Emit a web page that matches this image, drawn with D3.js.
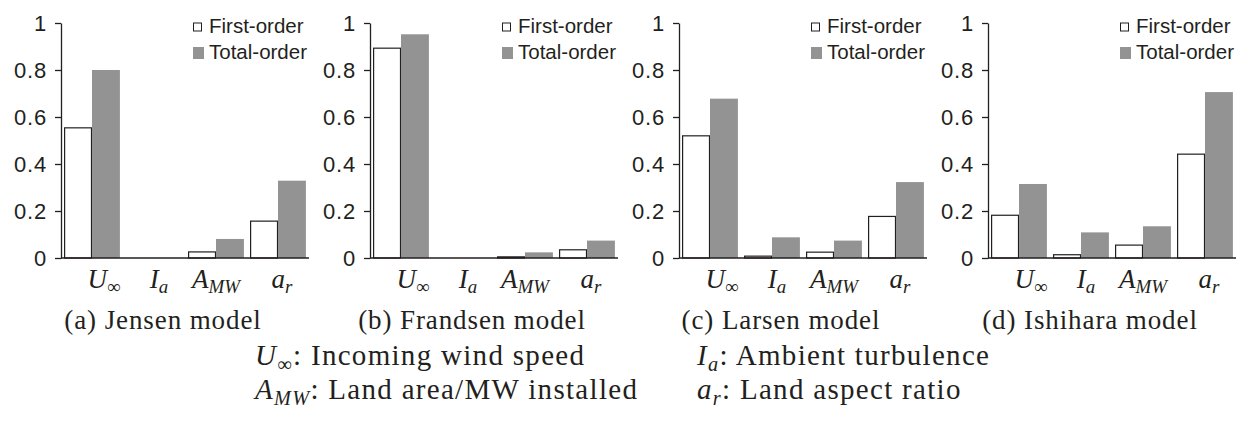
<!DOCTYPE html>
<html>
<head>
<meta charset="utf-8">
<script src="https://cdn.jsdelivr.net/npm/d3@7"></script>
<style>
  body { margin: 0; background: #fff; }
  svg { display: block; }
</style>
</head>
<body>
<svg id="chart" width="1240" height="421"></svg>
<script>
// Input parameters, in the order they appear along each x axis
const categories = ["U", "I", "A", "a"];
const categoryLabels = [
  { base: "U", sub: "\u221E", subUpright: true },
  { base: "I", sub: "a", subUpright: false },
  { base: "A", sub: "MW", subUpright: false },
  { base: "a", sub: "r", subUpright: false }
];
const seriesNames = ["First-order", "Total-order"];
const modelCaptions = ["(a) Jensen model", "(b) Frandsen model", "(c) Larsen model", "(d) Ishihara model"];

// Sobol sensitivity indices per wake model
const jensenFirst   = [0.556, 0.000, 0.028, 0.159];
const jensenTotal   = [0.800, 0.000, 0.081, 0.329];
const frandsenFirst = [0.895, 0.000, 0.007, 0.037];
const frandsenTotal = [0.952, 0.000, 0.024, 0.074];
const larsenFirst   = [0.522, 0.010, 0.027, 0.179];
const larsenTotal   = [0.678, 0.088, 0.074, 0.323];
const ishiharaFirst = [0.184, 0.016, 0.057, 0.444];
const ishiharaTotal = [0.315, 0.109, 0.135, 0.706];

const yTicks = [0, 0.2, 0.4, 0.6, 0.8, 1];

// Key for the symbols under the panels (left column, then right column)
const symbolKey = [
  { base: "U", sub: "\u221E", subUpright: true, text: ": Incoming wind speed" },
  { base: "I", sub: "a", subUpright: false, text: ": Ambient turbulence" },
  { base: "A", sub: "MW", subUpright: false, text: ": Land area/MW installed" },
  { base: "a", sub: "r", subUpright: false, text: ": Land aspect ratio" }
];

const panels = [
  { first: jensenFirst, total: jensenTotal },
  { first: frandsenFirst, total: frandsenTotal },
  { first: larsenFirst, total: larsenTotal },
  { first: ishiharaFirst, total: ishiharaTotal }
];

// ---- layout and style ----
const ink = "#231f20";
const grey = "#939393";
const sansFont = "'Liberation Sans', Arial, Helvetica, sans-serif";
const serifFont = "'Liberation Serif', 'Times New Roman', serif";
const panelLeft = 61, panelStep = 309, plotWidth = 248;
const yTop = 23, yBottom = 258;
const labelShift = [12, 5, 0, 4];
const keyColumns = [255, 697], keyRows = [365, 399];

const svg = d3.select("#chart");

const y = d3.scaleLinear().domain([0, 1]).range([yBottom, yTop]);

function mathText(sel, spec, size) {
  sel.append("tspan").attr("font-style", "italic").text(spec.base);
  sel.append("tspan")
    .attr("font-style", spec.subUpright ? "normal" : "italic")
    .attr("font-size", size * 0.7)
    .attr("dy", size * 0.2)
    .text(spec.sub);
}

panels.forEach((p, i) => {
  const x0 = panelLeft + i * panelStep;
  const g = svg.append("g");

  const x = d3.scaleBand()
    .domain(categories)
    .range([x0, x0 + plotWidth])
    .paddingInner(0.1)
    .paddingOuter(0.05);
  const xs = d3.scaleBand()
    .domain(seriesNames)
    .range([0, x.bandwidth()]);

  const rows = categories.map((c, k) => ({ cat: c, vals: [p.first[k], p.total[k]] }));

  // bars: outlined white for first-order, solid grey for total-order
  const grp = g.selectAll("g.grp").data(rows).join("g")
    .attr("class", "grp")
    .attr("transform", d => `translate(${x(d.cat)},0)`);
  grp.selectAll("rect")
    .data(d => d.vals.map((v, s) => ({ v, s: seriesNames[s] })).filter(e => e.v > 0))
    .join("rect")
    .attr("x", d => xs(d.s) + (d.s === seriesNames[0] ? 0.5 : 0))
    .attr("width", d => xs.bandwidth() - (d.s === seriesNames[0] ? 1 : 0))
    .attr("y", d => y(d.v) + (d.s === seriesNames[0] ? 0.5 : 0))
    .attr("height", d => Math.max(0, yBottom - y(d.v) - (d.s === seriesNames[0] ? 0.5 : 0)))
    .attr("fill", d => d.s === seriesNames[0] ? "#fff" : grey)
    .attr("stroke", d => d.s === seriesNames[0] ? ink : "none")
    .attr("stroke-width", 1.2);

  // y axis
  const yAxis = d3.axisLeft(y)
    .tickValues(yTicks)
    .tickFormat(d3.format("~g"))
    .tickSize(6)
    .tickSizeOuter(0)
    .tickPadding(8);
  const ya = g.append("g").attr("transform", `translate(${x0},0)`).call(yAxis);
  ya.selectAll("path, line").attr("stroke", ink).attr("stroke-width", 1.3);
  ya.selectAll("text")
    .attr("fill", ink)
    .attr("font-family", sansFont)
    .attr("font-size", 22)
    .attr("letter-spacing", 0.8);

  // x baseline
  g.append("line")
    .attr("x1", x0).attr("x2", x0 + plotWidth)
    .attr("y1", yBottom).attr("y2", yBottom)
    .attr("stroke", ink).attr("stroke-width", 1.3);

  // x labels
  categories.forEach((c, k) => {
    const t = g.append("text")
      .attr("x", x(c) + x.bandwidth() / 2 + labelShift[k])
      .attr("y", 288)
      .attr("text-anchor", "middle")
      .attr("font-family", serifFont)
      .attr("font-size", 27)
      .attr("fill", ink);
    mathText(t, categoryLabels[k], 27);
  });

  // legend
  const lg = g.append("g").attr("transform", `translate(${x0 + 132},0)`);
  lg.append("rect").attr("x", 0.5).attr("y", 23).attr("width", 8).attr("height", 8)
    .attr("fill", "#fff").attr("stroke", ink).attr("stroke-width", 1);
  lg.append("rect").attr("x", 0).attr("y", 47).attr("width", 11).attr("height", 12)
    .attr("fill", grey);
  lg.selectAll("text.leg").data(seriesNames).join("text")
    .attr("class", "leg")
    .attr("x", 16)
    .attr("y", (d, j) => 33 + j * 26)
    .attr("font-family", sansFont)
    .attr("font-size", 20.5)
    .attr("fill", ink)
    .text(d => d);

  // caption
  g.append("text")
    .attr("x", x0 + 102)
    .attr("y", 329)
    .attr("text-anchor", "middle")
    .attr("font-family", serifFont)
    .attr("font-size", 27)
    .attr("letter-spacing", 0.9)
    .attr("fill", ink)
    .text(modelCaptions[i]);
});

// symbol key, two columns by two rows
symbolKey.forEach((s, k) => {
  const t = svg.append("text")
    .attr("x", keyColumns[k % 2])
    .attr("y", keyRows[Math.floor(k / 2)])
    .attr("font-family", serifFont)
    .attr("font-size", 29)
    .attr("letter-spacing", 1.3)
    .attr("fill", ink);
  mathText(t, s, 29);
  t.append("tspan")
    .attr("dy", -29 * 0.2)
    .text(s.text);
});
</script>
</body>
</html>
